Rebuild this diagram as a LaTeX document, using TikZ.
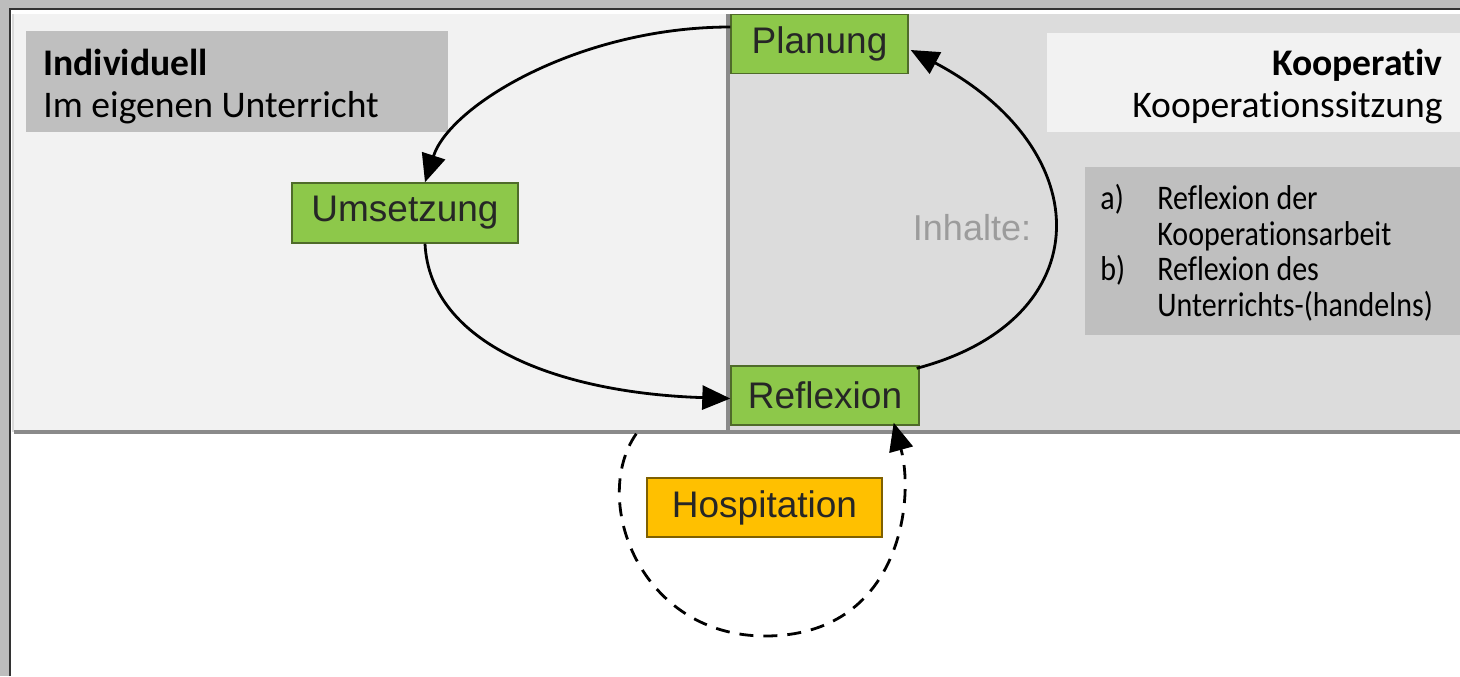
\documentclass[tikz,border=0pt]{standalone}
\usepackage{fontspec}
\setmainfont{Liberation Sans}
\newfontfamily\calfont[Ligatures=NoCommon]{Carlito}
\usetikzlibrary{arrows.meta,calc}
\definecolor{outerbg}{HTML}{BDBDBD}
\definecolor{leftbg}{HTML}{F2F2F2}
\definecolor{rightbg}{HTML}{DCDCDC}
\definecolor{hdrgray}{HTML}{BFBFBF}
\definecolor{hdrlight}{HTML}{F2F2F2}
\definecolor{grn}{HTML}{8DC84A}
\definecolor{grnborder}{HTML}{4F6B2A}
\definecolor{orng}{HTML}{FFC000}
\definecolor{orngborder}{HTML}{7F6000}
\definecolor{framegray}{HTML}{8A8A8A}
\definecolor{inhaltgray}{HTML}{9C9C9C}
\tikzset{
  stepbox/.style={draw=grnborder, fill=grn, line width=0.7pt, inner sep=0pt,
    font=\fontsize{18.5}{20}\selectfont, text=black!85, minimum height=29.5pt},
  hospbox/.style={stepbox, draw=orngborder, fill=orng},
  hdrtext/.style={inner sep=0pt, font=\calfont\fontsize{18.8}{20}\selectfont},
  listtext/.style={inner sep=0pt, anchor=base west, font=\calfont\fontsize{15}{17}\selectfont},
  arr/.style={line width=1.4pt, -{Triangle[length=14pt,width=12pt]}},
  dasharr/.style={arr, dash pattern=on 7pt off 5pt}
}
\newcommand{\tallt}[1]{\scalebox{1}[1.15]{#1}}
\begin{document}
\begin{tikzpicture}[x=0.5pt,y=-0.5pt]
\useasboundingbox (0,0) rectangle (1460,676);
% background and frame
\fill[outerbg] (0,0) rectangle (1460,676);
\fill[white] (10,9) rectangle (1460,676);
\draw[black!80, line width=1.2pt] (10,676) -- (10,9) -- (1460,9);
\fill[leftbg] (14,14) rectangle (728,432);
\fill[rightbg] (728,14) rectangle (1460,432);
\draw[framegray, line width=1.8pt] (14,432) -- (1460,432);
\draw[framegray, line width=1.8pt] (728,14) -- (728,432);
\draw[black!15, line width=0.8pt] (13,14) -- (13,432);
% header boxes
\fill[hdrgray] (26,31) rectangle (448,132);
\fill[hdrlight] (1047,33) rectangle (1460,132);
\fill[hdrgray] (1085,167) rectangle (1460,335);
\node[hdrtext, anchor=base west, font=\calfont\bfseries\fontsize{18.8}{20}\selectfont] (indiv) at (43,75) {Individuell};
\node[hdrtext, anchor=base west] (eigen) at (43,117) {Im eigenen Unterricht};
\node[hdrtext, anchor=base east, font=\calfont\bfseries\fontsize{18.8}{20}\selectfont] (koop) at (1443,75) {Kooperativ};
\node[hdrtext, anchor=base east] (sitz) at (1443,117) {Kooperationssitzung};
% list
\node[listtext] (la) at (1100,209) {\tallt{a)}};
\node[listtext] (la1) at (1157,209) {\tallt{Reflexion der}};
\node[listtext] (la2) at (1157,245) {\tallt{Kooperationsarbeit}};
\node[listtext] (lb) at (1100,280) {\tallt{b)}};
\node[listtext] (lb1) at (1157,280) {\tallt{Reflexion des}};
\node[listtext] (lb2) at (1157,316) {\tallt{Unterrichts-(handelns)}};
\node[inner sep=0pt, text=inhaltgray, font=\fontsize{18}{20}\selectfont] (inh) at (972,228) {Inhalte:};
% step nodes
\node[stepbox, minimum width=88.5pt] (plan) at (819.5,44) {Planung};
\node[stepbox, minimum width=113pt, minimum height=30pt] (ums) at (405,213) {Umsetzung};
\node[stepbox, minimum width=94pt] (refl) at (825,395.5) {Reflexion};
\node[hospbox, minimum width=117.5pt] (hosp) at (764.5,507.5) {Hospitation};
% connectors
\draw[arr] ($(plan.west)+(0,-17)$) .. controls (580,27) and (450,105) .. ($(ums.north)+(20,0)$);
\draw[arr] ($(ums.south)+(20,0)$) .. controls (430,345) and (560,393) .. ($(refl.west)+(0,3)$);
\draw[arr] ($(refl.north east)+(-3,3)$) .. controls (1100,320) and (1100,150) .. ($(plan.east)+(2,6)$);
\coordinate (dstart) at ($(refl.south west)+(-94,8)$);
\coordinate (dbottom) at (765,636);
\draw[dasharr] (dstart) .. controls (590,500) and (640,636) .. (dbottom)
  .. controls (900,636) and (915,500) .. ($(refl.south east)+(-26,-3)$);
\end{tikzpicture}
\end{document}
